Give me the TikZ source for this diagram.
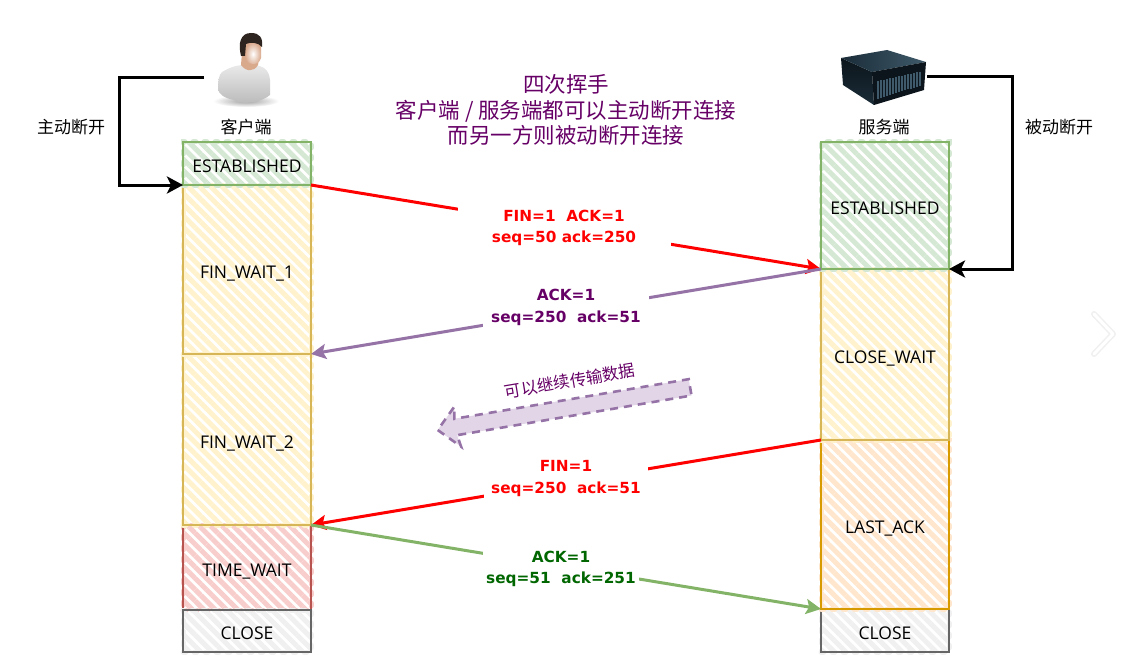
\documentclass[tikz,border=0pt]{standalone}
\usepackage{fontspec}
\setmainfont{Open Sans}
\newfontfamily\cjk{Noto Sans CJK SC}
\newfontfamily\msgfont{DejaVu Sans}
\usetikzlibrary{arrows.meta,positioning,patterns.meta,shapes.arrows}
\definecolor{grnS}{HTML}{82B366}\definecolor{grnF}{HTML}{D5E8D4}
\definecolor{ylwS}{HTML}{D6B656}\definecolor{ylwF}{HTML}{FFF2CC}
\definecolor{redS}{HTML}{B85450}\definecolor{redF}{HTML}{F8CECC}
\definecolor{orgS}{HTML}{D79B00}\definecolor{orgF}{HTML}{FFE6CC}
\definecolor{gryS}{HTML}{666666}\definecolor{gryF}{HTML}{F0F0F0}
\definecolor{purS}{HTML}{9673A6}\definecolor{purF}{HTML}{E1D5E7}
\definecolor{purT}{HTML}{660066}\definecolor{grnT}{HTML}{006600}
\definecolor{skinD}{HTML}{D9A98C}\definecolor{hairC}{HTML}{2E2520}
\definecolor{srvA}{HTML}{1A2C38}\definecolor{srvB}{HTML}{3F5A6A}\definecolor{srvC}{HTML}{0C151B}

\begin{document}
\begin{tikzpicture}[x=1pt,y=-1pt,node distance=0pt,
  state/.style={draw=#1S,line width=2.4pt,minimum width=128pt,inner sep=0pt,outer sep=0pt,
    preaction={draw=#1F,line width=5pt,line cap=round,dash pattern=on 3pt off 8pt},
    pattern={Lines[angle=-45,distance=8pt,line width=5pt]},pattern color=#1F,
    text height=17pt,text depth=0pt,font=\fontsize{17.5}{19}\selectfont},
  msg/.style={fill=white,align=center,inner sep=0pt,minimum height=42pt,
    font=\msgfont\bfseries\fontsize{15.3}{21.5}\selectfont},
  note/.style={font=\cjk\fontsize{17}{20}\selectfont},
  link/.style={line width=3pt,-{Stealth[length=15pt,width=15pt,inset=3pt]}},
  side/.style={line width=3pt,-{Stealth[length=16pt,width=17pt,inset=4pt]}}]
  \useasboundingbox (0,0) rectangle (1122,666);
  % client column
  \node[state=red,minimum height=85pt] (cTime) at (247,567.5) {TIME\_WAIT};
  \node[state=ylw,minimum height=171pt,above=of cTime] (cFin2) {FIN\_WAIT\_2};
  \node[state=ylw,minimum height=169pt,above=of cFin2] (cFin1) {FIN\_WAIT\_1};
  \node[state=grn,minimum height=43pt,above=of cFin1] (cEst) {ESTABLISHED};
  \node[state=gry,minimum height=42pt,below=of cTime] (cClose) {CLOSE};
  % server column
  \node[state=gry,minimum height=43pt] (sClose) at (885,630.5) {CLOSE};
  \node[state=org,minimum height=169pt,above=of sClose] (sLast) {LAST\_ACK};
  \node[state=ylw,minimum height=171pt,above=of sLast] (sWait) {CLOSE\_WAIT};
  \node[state=grn,minimum height=127pt,above=of sWait] (sEst) {ESTABLISHED};
  % client icon
  \shade[inner color=gray!75,outer color=white] (246,101) ellipse (33 and 6);
  \shade[top color=black!8,bottom color=black!28] (222,72) .. controls (232,66) and (240,64) .. (254,65)
    .. controls (264,66) and (269,70) .. (270,80) -- (270,95)
    .. controls (262,102) and (242,106) .. (234,100)
    .. controls (224,98) and (218,94) .. (218,88) .. controls (218,80) and (219,75) .. (222,72);
  \fill[skinD] (242,52) -- (260,52) -- (258,65) .. controls (254,72) and (246,72) .. (241,65) -- cycle;
  \shade[inner color=white,outer color=skinD] (245,42) -- (261,42) -- (261,58) .. controls (259,66) and (248,66) .. (245,58) -- cycle;
  \fill[hairC] (241,56) .. controls (238,44) and (240,33) .. (251,33)
    .. controls (260,33) and (263,38) .. (262,47) .. controls (258,42) and (250,42) .. (246,44) -- (245,56) -- cycle;
  % server icon
  \shade[top color=srvC,bottom color=srvA] (841,58) -- (872,72) -- (874,105) -- (843,85) -- cycle;
  \shade[left color=srvA,right color=srvB] (841,58) -- (887,50) -- (926,62) -- (872,72) -- cycle;
  \fill[srvC] (872,72) -- (926,62) -- (924,90) -- (874,105) -- cycle;
  \foreach \i in {0,...,14}
    \draw[srvB,line width=1.2pt] ({878+3*\i},{81-0.67*\i}) -- ({878+3*\i},{99-0.95*\i});
  % anchors of the two icons
  \coordinate (client) at (204,78);
  \coordinate (server) at (927,77);
  \coordinate (clientBend) at (119,78);
  \coordinate (serverBend) at (1012,77);
  \node[note] (clientLbl) at (246,127) {客户端};
  \node[note] (serverLbl) at (884,127) {服务端};
  \node[note] (activeLbl) at (71,127) {主动断开};
  \node[note] (passiveLbl) at (1059,127) {被动断开};
  \draw[side] (client) -- (clientBend) |- (cEst.south west);
  \draw[side] (server) -- (serverBend) |- (sEst.south east);
  \node[align=center,text=purT,font=\cjk\fontsize{21.5}{25.5}\selectfont] (title) at (566,110) {四次挥手\\客户端 / 服务端都可以主动断开连接\\而另一方则被动断开连接};
  \draw[link,red] (cEst.south east) -- node[msg,text=red,minimum width=213pt,xshift=-2pt,yshift=-1pt] {FIN=1~~ACK=1\\seq=50 ack=250} (sEst.south west);
  \draw[link,purS] (sEst.south west) -- node[msg,text=purT,minimum width=166pt,yshift=4pt] {ACK=1\\seq=250~~ack=51} (cFin2.north east);
  \draw[link,red] (sLast.north west) -- node[msg,text=red,minimum width=164pt,yshift=4pt] {FIN=1\\seq=250~~ack=51} (cTime.north east);
  \draw[link,grnS] (cTime.north east) -- node[msg,text=grnT,minimum width=156pt,xshift=-5pt,yshift=-2pt] {ACK=1\\seq=51~~ack=251} (sClose.north west);
  \node[draw=purS,fill=purF,line width=2.6pt,dash pattern=on 8pt off 6pt,single arrow,rotate=189.6,minimum width=38pt,
    single arrow head extend=12pt,single arrow head indent=2pt,minimum height=256pt,inner sep=0pt,text height=14pt] (flow) at (568,408) {};
  \node[text=purT,rotate=9.6,font=\cjk\fontsize{16.5}{18}\selectfont] (flowLbl) at (570,381) {可以继续传输数据};
  \draw[gray!12,line width=6pt,line cap=round,line join=round] (1094,314) -- (1113,334) -- (1094,354);
  \draw[white,line width=3pt,line cap=round,line join=round] (1094,314) -- (1113,334) -- (1094,354);
\end{tikzpicture}
\end{document}
